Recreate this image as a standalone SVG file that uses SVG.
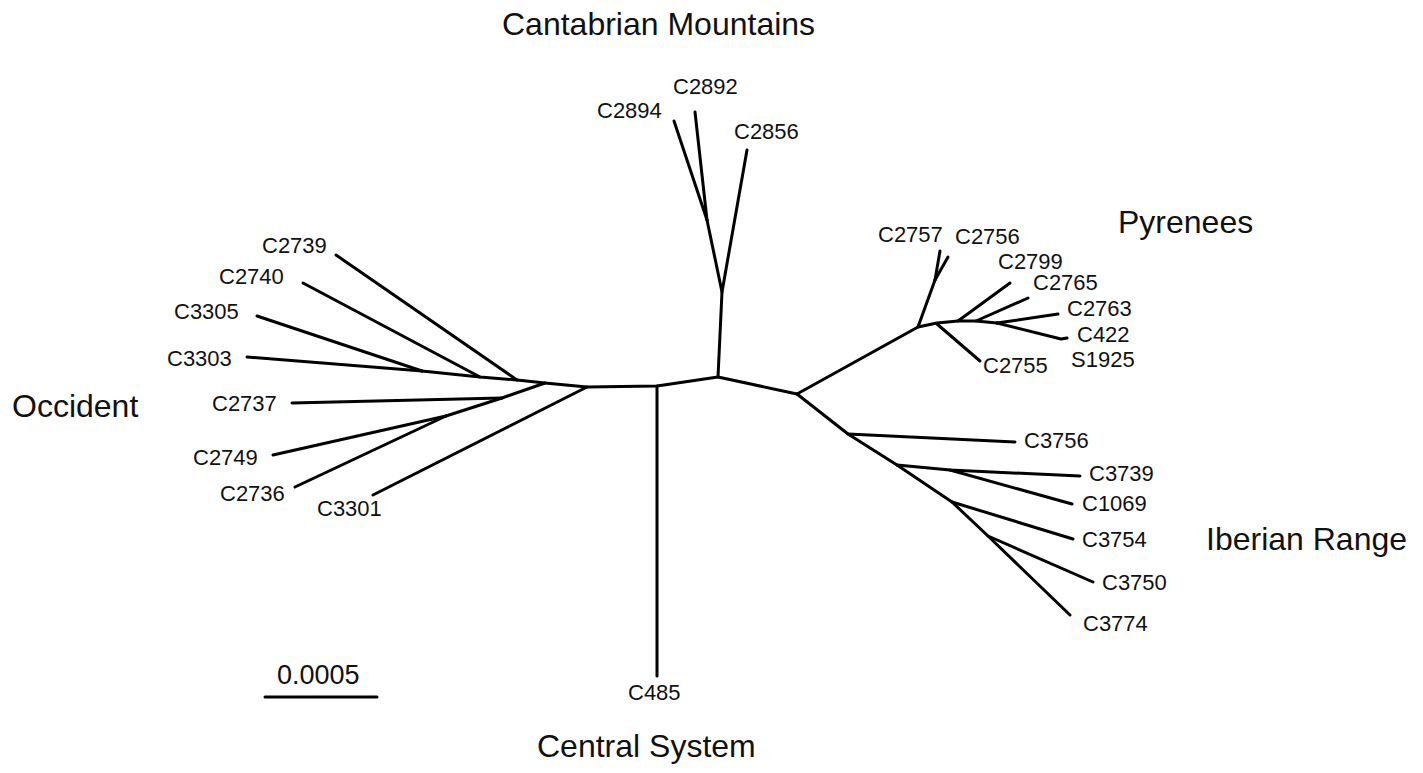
<svg xmlns="http://www.w3.org/2000/svg" width="1423" height="773" viewBox="0 0 1423 773">
<style>
.e{stroke:#000;stroke-width:3;fill:none;stroke-linecap:round;stroke-linejoin:round}
.l{font-family:"Liberation Sans",Arial,Helvetica,sans-serif;font-size:22px;fill:#111}
.g{font-family:"Liberation Sans",Arial,Helvetica,sans-serif;font-size:32px;fill:#111}
.s{font-family:"Liberation Sans",Arial,Helvetica,sans-serif;font-size:27px;fill:#111}
</style>
<rect width="1423" height="773" fill="#fff"/>
<g id="connectors">
<polyline class="e" points="422,371 480,377 517,380 545,383 587,387 657,386 718,377 797,394"/>
<line class="e" x1="257" y1="316" x2="422" y2="371"/>
<line class="e" x1="247" y1="357" x2="422" y2="371"/>
<line class="e" x1="303" y1="283" x2="480" y2="377"/>
<line class="e" x1="336" y1="255" x2="517" y2="380"/>
<polyline class="e" points="446,416 502,398 545,383"/>
<line class="e" x1="292" y1="403" x2="502" y2="398"/>
<line class="e" x1="273" y1="455" x2="446" y2="416"/>
<line class="e" x1="295" y1="487" x2="446" y2="416"/>
<line class="e" x1="373" y1="495" x2="587" y2="387"/>
<line class="e" x1="657" y1="386" x2="657" y2="676"/>
<polyline class="e" points="718,377 722,292 707,220"/>
<line class="e" x1="707" y1="220" x2="674" y2="121"/>
<line class="e" x1="707" y1="220" x2="695" y2="112"/>
<line class="e" x1="722" y1="292" x2="747" y2="150"/>
<polyline class="e" points="797,394 918,327 935,280"/>
<line class="e" x1="935" y1="280" x2="940" y2="251"/>
<line class="e" x1="935" y1="280" x2="948" y2="257"/>
<polyline class="e" points="918,327 937,323 958,321 976,321 997,323"/>
<line class="e" x1="937" y1="324" x2="980" y2="361"/>
<line class="e" x1="958" y1="321" x2="1010" y2="283"/>
<line class="e" x1="976" y1="321" x2="1028" y2="298"/>
<line class="e" x1="997" y1="323" x2="1058" y2="314"/>
<polyline class="e" points="997,323 1061,339 1067,338"/>
<polyline class="e" points="797,394 848,434 897,465 952,502 988,536 1070,615"/>
<line class="e" x1="848" y1="434" x2="1015" y2="442"/>
<polyline class="e" points="897,465 950,470 1080,476"/>
<line class="e" x1="950" y1="470" x2="1072" y2="504"/>
<line class="e" x1="952" y1="502" x2="1073" y2="539"/>
<line class="e" x1="988" y1="536" x2="1093" y2="582"/>
<line class="e" x1="265" y1="697" x2="377" y2="697"/>
</g>
<g id="occident">
<text class="g" x="12" y="417">Occident</text>
<text class="l" x="262" y="253">C2739</text>
<text class="l" x="219" y="284">C2740</text>
<text class="l" x="174" y="319">C3305</text>
<text class="l" x="167" y="366">C3303</text>
<text class="l" x="212" y="411">C2737</text>
<text class="l" x="193" y="465">C2749</text>
<text class="l" x="220" y="501">C2736</text>
<text class="l" x="317" y="516">C3301</text>
</g>
<g id="cantabrian">
<text class="g" x="502" y="35">Cantabrian Mountains</text>
<text class="l" x="597" y="118">C2894</text>
<text class="l" x="673" y="94">C2892</text>
<text class="l" x="734" y="139">C2856</text>
</g>
<g id="pyrenees">
<text class="g" x="1118" y="233">Pyrenees</text>
<text class="l" x="878" y="242">C2757</text>
<text class="l" x="955" y="244">C2756</text>
<text class="l" x="998" y="269">C2799</text>
<text class="l" x="1033" y="290">C2765</text>
<text class="l" x="1067" y="316">C2763</text>
<text class="l" x="1077" y="342">C422</text>
<text class="l" x="1071" y="367">S1925</text>
<text class="l" x="983" y="373">C2755</text>
</g>
<g id="iberian">
<text class="g" x="1206" y="550">Iberian Range</text>
<text class="l" x="1024" y="448">C3756</text>
<text class="l" x="1089" y="481">C3739</text>
<text class="l" x="1082" y="511">C1069</text>
<text class="l" x="1082" y="547">C3754</text>
<text class="l" x="1102" y="590">C3750</text>
<text class="l" x="1083" y="631">C3774</text>
</g>
<g id="central">
<text class="g" x="537" y="757">Central System</text>
<text class="l" x="628" y="700">C485</text>
</g>
<g id="scale">
<text class="s" x="277" y="684">0.0005</text>
</g>
</svg>
